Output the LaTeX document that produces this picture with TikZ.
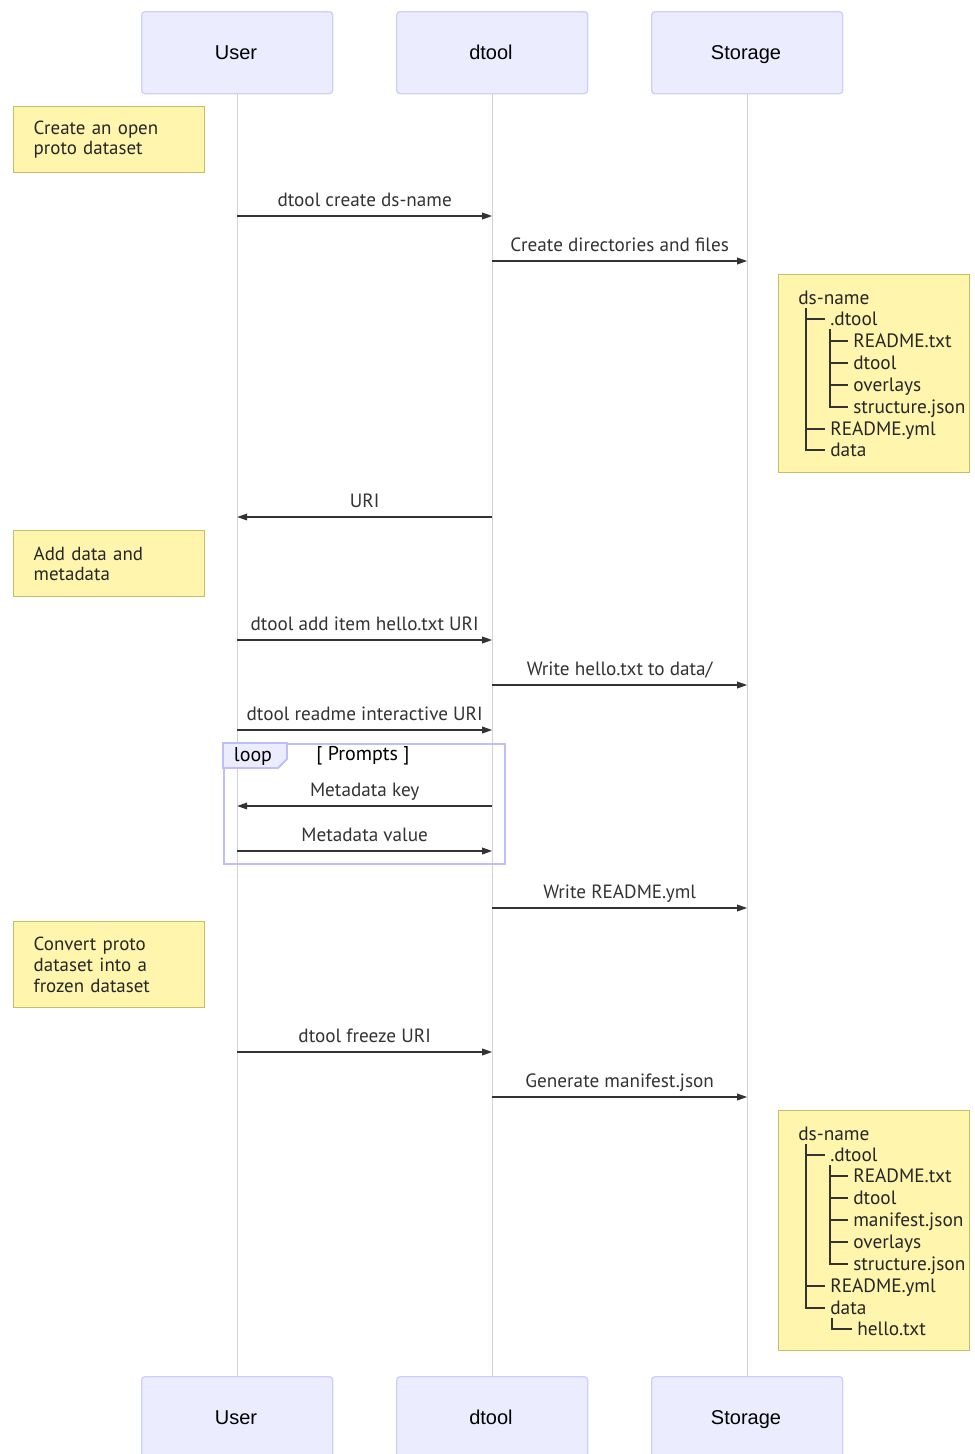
\documentclass[tikz,border=0pt]{standalone}
\usepackage{fontspec}
\setmainfont{PT Sans}
\newfontfamily\actorfont{Liberation Sans}
\usetikzlibrary{arrows.meta}
\definecolor{actorfill}{HTML}{ECECFF}
\definecolor{actorline}{HTML}{CFCFFC}
\definecolor{notefill}{HTML}{FFF5AD}
\definecolor{noteline}{HTML}{C4BE66}
\definecolor{loopline}{HTML}{BEBEFA}
\definecolor{lifeline}{HTML}{D2D2D2}
\definecolor{msgline}{HTML}{333333}
\tikzset{
	actor/.style={draw=actorline, fill=actorfill, rounded corners=2.5pt, line width=1pt, minimum width=143.25pt, minimum height=61.5pt, anchor=north west, font=\actorfont\fontsize{15}{18}\selectfont},
	actorname/.style={anchor=base, inner sep=0pt, font=\actorfont\fontsize{15}{18}\selectfont},
	note/.style={draw=noteline, fill=notefill, line width=1.1pt, anchor=north west, minimum width=143.25pt, text width=113.25pt, inner xsep=15pt, align=left, font=\fontsize{14.2}{15.5}\selectfont, text=black!85},
	treebox/.style={draw=noteline, fill=notefill, line width=1.1pt, anchor=north west, minimum width=143.25pt},
	treeitem/.style={anchor=base west, inner sep=0pt, font=\fontsize{14.5}{15}\selectfont, text=black!85},
	treeline/.style={draw=black!80, line width=0.9pt},
	life/.style={draw=lifeline, line width=1pt},
	msg/.style={draw=msgline, line width=1pt, -{Triangle[length=7.5pt,width=5pt]}},
	msglabel/.style={anchor=base, yshift=7pt, inner sep=0pt, font=\fontsize{14.4}{16}\selectfont, text=black!80},
	loopframe/.style={draw=loopline, line width=1.4pt}
}
\begin{document}
\begin{tikzpicture}[x=0.75pt, y=-0.75pt]
	\useasboundingbox (0,0) rectangle (975,1454);
	\fill[white] (0,0) rectangle (975,1454);

	\node[actor] (userTop) at (141,11) {};
	\node[actor] (dtoolTop) at (396,11) {};
	\node[actor] (storageTop) at (651,11) {};
	\node[actor] (userBot) at (141,1376) {};
	\node[actor] (dtoolBot) at (396,1376) {};
	\node[actor] (storageBot) at (651,1376) {};
	\node[actorname] (userTopName) at (236,59) {User};
	\node[actorname] (dtoolTopName) at (491,59) {dtool};
	\node[actorname] (storageTopName) at (746,59) {Storage};
	\node[actorname] (userBotName) at (236,1424) {User};
	\node[actorname] (dtoolBotName) at (491,1424) {dtool};
	\node[actorname] (storageBotName) at (746,1424) {Storage};

	\path[life] (userTop) -- (userBot);
	\path[life] (dtoolTop) -- (dtoolBot);
	\path[life] (storageTop) -- (storageBot);

	\node[note, minimum height=49.5pt] (noteCreate) at (13,106) {Create an open\\proto dataset};
	\node[note, minimum height=49.5pt] (noteAdd) at (13,530) {Add data and\\metadata};
	\node[note, minimum height=64.5pt] (noteFreeze) at (13,921) {Convert proto\\dataset into a\\frozen dataset};

	\node[loopframe, anchor=north west, minimum width=210.75pt, minimum height=90pt] (loopBox) at (223,743) {};
	\draw[loopframe, fill=actorfill] (223,743) -- (287,743) -- (287,759) -- (278,768) -- (223,768) -- cycle;
	\node[font=\fontsize{15}{16}\selectfont] (loopTag) at (253,756) {loop};
	\node[font=\fontsize{15}{16}\selectfont] (loopCond) at (363,756) {[ Prompts ]};

	\path[msg] (userTop |- 0,216) -- node[msglabel] {dtool create ds-name} (dtoolTop |- 0,216);
	\path[msg] (dtoolTop |- 0,261) -- node[msglabel] {Create directories and files} (storageTop |- 0,261);
	\path[msg] (dtoolTop |- 0,517) -- node[msglabel] {URI} (userTop |- 0,517);
	\path[msg] (userTop |- 0,640) -- node[msglabel] {dtool add item hello.txt URI} (dtoolTop |- 0,640);
	\path[msg] (dtoolTop |- 0,685) -- node[msglabel] {Write hello.txt to data/} (storageTop |- 0,685);
	\path[msg] (userTop |- 0,730) -- node[msglabel] {dtool readme interactive URI} (dtoolTop |- 0,730);
	\path[msg] (dtoolTop |- 0,806) -- node[msglabel] {Metadata key} (userTop |- 0,806);
	\path[msg] (userTop |- 0,851) -- node[msglabel] {Metadata value} (dtoolTop |- 0,851);
	\path[msg] (dtoolTop |- 0,908) -- node[msglabel] {Write README.yml} (storageTop |- 0,908);
	\path[msg] (userTop |- 0,1052) -- node[msglabel] {dtool freeze URI} (dtoolTop |- 0,1052);
	\path[msg] (dtoolTop |- 0,1097) -- node[msglabel] {Generate manifest.json} (storageTop |- 0,1097);

	\node[treebox, minimum height=148.5pt] (treeOpen) at (778,274) {};
	\foreach \x/\y/\t in {798/298/ds-name, 830/319/.dtool, 853/341/README.txt, 853/363/dtool, 853/385/overlays, 853/407/structure.json, 830/429/README.yml, 830/450/data}
		\node[treeitem] (open\y) at (\x,\y+6) {\t};
	\path[treeline] (806,308) -- (806,450) -- (825,450) (806,319) -- (825,319) (806,429) -- (825,429);
	\path[treeline] (830,329) -- (830,407) -- (848,407) (830,341) -- (848,341) (830,363) -- (848,363) (830,385) -- (848,385);

	\node[treebox, minimum height=180pt] (treeFrozen) at (778,1110) {};
	\foreach \x/\y/\t in {798/1134/ds-name, 830/1155/.dtool, 853/1176/README.txt, 853/1198/dtool, 853/1220/manifest.json, 853/1242/overlays, 853/1264/structure.json, 830/1286/README.yml, 830/1308/data, 857/1329/hello.txt}
		\node[treeitem] (frozen\y) at (\x,\y+6) {\t};
	\path[treeline] (806,1144) -- (806,1308) -- (825,1308) (806,1155) -- (825,1155) (806,1286) -- (825,1286);
	\path[treeline] (830,1165) -- (830,1264) -- (848,1264) (830,1176) -- (848,1176) (830,1198) -- (848,1198) (830,1220) -- (848,1220) (830,1242) -- (848,1242);
	\path[treeline] (832,1318) -- (832,1329) -- (852,1329);
\end{tikzpicture}
\end{document}
